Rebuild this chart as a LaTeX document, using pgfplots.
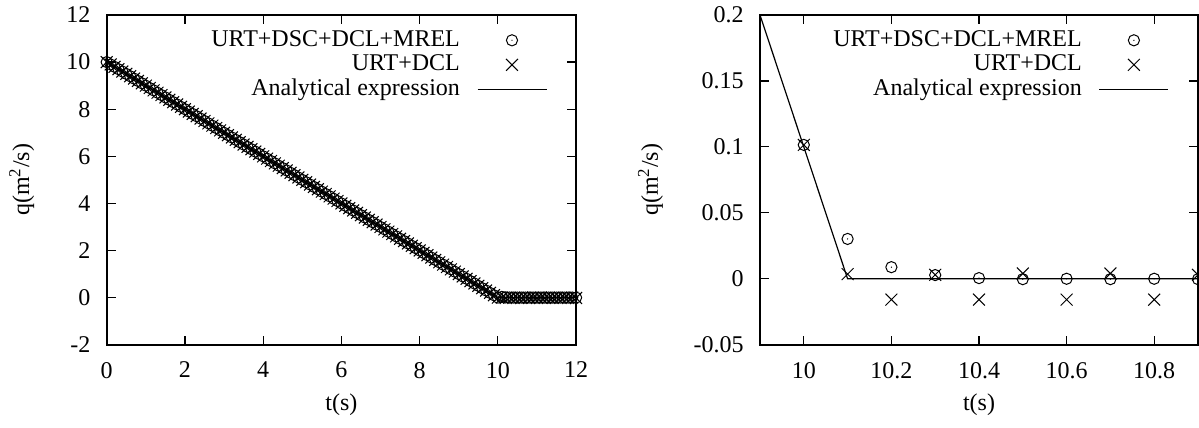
\documentclass[border=0pt]{standalone}
\usepackage{pgfplots}
\pgfplotsset{compat=1.18}
\usepackage{pgfplotstable}
\usepackage{fontspec}
\setmainfont{Liberation Serif}

\pgfdeclareplotmark{dotcircle}{%
  \pgfpathcircle{\pgfpointorigin}{\pgfplotmarksize}\pgfusepathqstroke
  \pgfpathcircle{\pgfpointorigin}{0.35bp}\pgfusepathqfill}

\pgfplotstableread{
t c x
0 10 10
0.1 9.9 9.9
0.2 9.8 9.8
0.3 9.7 9.7
0.4 9.6 9.6
0.5 9.5 9.5
0.6 9.4 9.4
0.7 9.3 9.3
0.8 9.2 9.2
0.9 9.1 9.1
1.0 9.0 9.0
1.1 8.9 8.9
1.2 8.8 8.8
1.3 8.7 8.7
1.4 8.6 8.6
1.5 8.5 8.5
1.6 8.4 8.4
1.7 8.3 8.3
1.8 8.2 8.2
1.9 8.1 8.1
2.0 8.0 8.0
2.1 7.9 7.9
2.2 7.8 7.8
2.3 7.7 7.7
2.4 7.6 7.6
2.5 7.5 7.5
2.6 7.4 7.4
2.7 7.3 7.3
2.8 7.2 7.2
2.9 7.1 7.1
3.0 7.0 7.0
3.1 6.9 6.9
3.2 6.8 6.8
3.3 6.7 6.7
3.4 6.6 6.6
3.5 6.5 6.5
3.6 6.4 6.4
3.7 6.3 6.3
3.8 6.2 6.2
3.9 6.1 6.1
4.0 6.0 6.0
4.1 5.9 5.9
4.2 5.8 5.8
4.3 5.7 5.7
4.4 5.6 5.6
4.5 5.5 5.5
4.6 5.4 5.4
4.7 5.3 5.3
4.8 5.2 5.2
4.9 5.1 5.1
5.0 5.0 5.0
5.1 4.9 4.9
5.2 4.8 4.8
5.3 4.7 4.7
5.4 4.6 4.6
5.5 4.5 4.5
5.6 4.4 4.4
5.7 4.3 4.3
5.8 4.2 4.2
5.9 4.1 4.1
6.0 4.0 4.0
6.1 3.9 3.9
6.2 3.8 3.8
6.3 3.7 3.7
6.4 3.6 3.6
6.5 3.5 3.5
6.6 3.4 3.4
6.7 3.3 3.3
6.8 3.2 3.2
6.9 3.1 3.1
7.0 3.0 3.0
7.1 2.9 2.9
7.2 2.8 2.8
7.3 2.7 2.7
7.4 2.6 2.6
7.5 2.5 2.5
7.6 2.4 2.4
7.7 2.3 2.3
7.8 2.2 2.2
7.9 2.1 2.1
8.0 2.0 2.0
8.1 1.9 1.9
8.2 1.8 1.8
8.3 1.7 1.7
8.4 1.6 1.6
8.5 1.5 1.5
8.6 1.4 1.4
8.7 1.3 1.3
8.8 1.2 1.2
8.9 1.1 1.1
9.0 1.0 1.0
9.1 0.9 0.9
9.2 0.8 0.8
9.3 0.7 0.7
9.4 0.6 0.6
9.5 0.5 0.5
9.6 0.4 0.4
9.7 0.3 0.3
9.8 0.2 0.2
9.9 0.1 0.1
10.0 0.0 0.0
10.1 0.03 0.003
10.2 0.009 -0.016
10.3 0.003 0.003
10.4 0 -0.016
10.5 0 0.003
10.6 0 -0.016
10.7 0 0.003
10.8 0 -0.016
10.9 0 0.003
11.0 0 -0.016
11.1 0 0.003
11.2 0 -0.016
11.3 0 0.003
11.4 0 -0.016
11.5 0 0.003
11.6 0 -0.016
11.7 0 0.003
11.8 0 -0.016
11.9 0 0.003
12.0 0 -0.016
}\leftdata

\pgfplotstableread{
t c x
10.0 0.1015 0.1015
10.1 0.0302 0.0035
10.2 0.0088 -0.0158
10.3 0.0028 0.0030
10.4 0.0005 -0.0158
10.5 -0.0003 0.0040
10.6 0.0000 -0.0158
10.7 -0.0003 0.0040
10.8 0.0000 -0.0158
10.9 -0.0003 0.0030
}\rightdata

\pgfplotsset{
  gp/.style={
    scale only axis,
    height=164.85bp,
    axis line style={line width=1bp},
    tick style={black, line width=0.6bp},
    tick align=inside,
    major tick length=4.5bp,
    xtick pos=both, ytick pos=both,
    xticklabel pos=lower, yticklabel pos=left,
    /pgf/number format/assume math mode=true,
    yticklabel style={inner sep=0pt, xshift=-8bp},
    xticklabel style={inner sep=0pt, yshift=-8.5bp},
    xlabel style={at={(axis description cs:0.5,-0.182)}, anchor=center},
    legend cell align=right,
    legend plot pos=right,
    legend style={draw=none, fill=none, at={(rel axis cs:1,1)}, anchor=north east,
      xshift=-14.5bp, yshift=-6.65bp, inner sep=0pt, outer sep=0pt,
      row sep=0.25bp, column sep=8.5bp,
      nodes={inner sep=0pt, text height=9bp, text depth=3bp}},
    xlabel={t(s)},
    ylabel={q(m\textsuperscript{2}/s)},
  },
  mk/.style={only marks, black, line width=0.5bp,
    legend image code/.code={\draw[mark repeat=2,mark phase=2,##1] plot coordinates {(0bp,0bp)(17.25bp,0bp)(34.5bp,0bp)};}},
  ln/.style={black, line width=0.6bp, no marks,
    legend image code/.code={\draw[##1] (0bp,0bp) -- (34.5bp,0bp);}},
}

\begin{document}
\fontsize{12bp}{14bp}\selectfont
\begin{tikzpicture}
\path[use as bounding box] (-53.35bp,-41.65bp) rectangle (546.15bp,172.35bp);
\begin{axis}[gp,
  width=234.7bp,
  xmin=0, xmax=12, ymin=-2, ymax=12,
  xtick={0,2,4,6,8,10,12},
  ytick={-2,0,2,4,6,8,10,12},
  yticklabels={-2,0,2,4,6,8,10,12},
  ylabel style={at={(axis description cs:-0.1811,0.5)}, anchor=center},
]
\addplot[mk, mark=dotcircle, mark size=2.8bp] table[x=t, y=c] {\leftdata};
\addlegendentry{URT+DSC+DCL+MREL}
\addplot[mk, mark=x, mark size=4.2bp] table[x=t, y=x] {\leftdata};
\addlegendentry{URT+DCL}
\addplot[ln] coordinates {(0,10) (10,0) (12,0)};
\addlegendentry{Analytical expression}
\end{axis}

\begin{axis}[gp,
  xshift=326.65bp,
  width=219bp,
  xmin=9.9, xmax=10.9, ymin=-0.05, ymax=0.2,
  xtick={10,10.2,10.4,10.6,10.8},
  xticklabels={10,10.2,10.4,10.6,10.8},
  ytick={-0.05,0,0.05,0.1,0.15,0.2},
  yticklabels={-0.05,0,0.05,0.1,0.15,0.2},
  ylabel style={at={(axis description cs:-0.25,0.5)}, anchor=center},
  clip marker paths=true,
]
\addplot[mk, mark=dotcircle, mark size=2.8bp] table[x=t, y=c] {\rightdata};
\addlegendentry{URT+DSC+DCL+MREL}
\addplot[mk, mark=x, mark size=4.2bp] table[x=t, y=x] {\rightdata};
\addlegendentry{URT+DCL}
\addplot[ln] coordinates {(9.9,0.2) (10.1,0) (10.9,0)};
\addlegendentry{Analytical expression}
\end{axis}
\end{tikzpicture}
\end{document}
